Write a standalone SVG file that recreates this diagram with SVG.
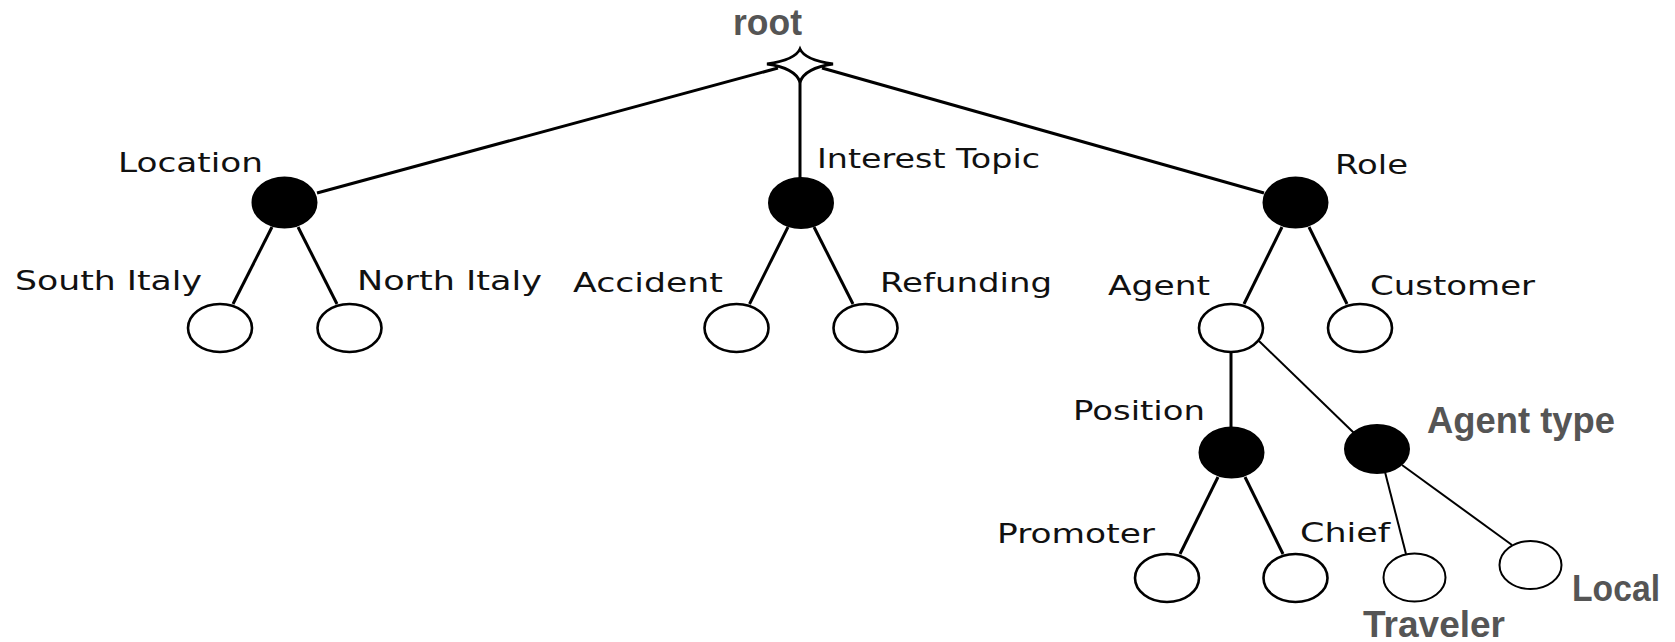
<svg xmlns="http://www.w3.org/2000/svg" width="1675" height="642" viewBox="0 0 1675 642">
  <style>
    .edge { stroke: #000; stroke-width: 3; fill: none; }
    .edge.thin { stroke-width: 2; }
    .cat { fill: #000; stroke: #000; stroke-width: 2; }
    .leaf { fill: #fff; stroke: #000; stroke-width: 2.6; }
    .leaf.thin { stroke-width: 2; }
    .lbl { font-family: "DejaVu Sans", Verdana, sans-serif; font-size: 26px; fill: #111; }
    .bold { font-family: "Liberation Sans", Arial, sans-serif; font-weight: bold; font-size: 36px; fill: #555; }
  </style>
  <rect width="1675" height="642" fill="#fff"/>

  <g id="connectors">
    <line class="edge" x1="778" y1="68" x2="317" y2="193"/>
    <line class="edge" x1="800" y1="80" x2="800" y2="179"/>
    <line class="edge" x1="822" y1="68" x2="1264" y2="193"/>
    <line class="edge" x1="272" y1="227" x2="233" y2="304"/>
    <line class="edge" x1="298" y1="227" x2="337" y2="304"/>
    <line class="edge" x1="788" y1="227" x2="749.5" y2="304"/>
    <line class="edge" x1="814" y1="227" x2="853" y2="304"/>
    <line class="edge" x1="1282" y1="227" x2="1244" y2="304"/>
    <line class="edge" x1="1309" y1="227" x2="1347" y2="304"/>
    <line class="edge" x1="1231" y1="352" x2="1231" y2="428"/>
    <line class="edge thin" x1="1259" y1="341" x2="1354" y2="433"/>
    <line class="edge" x1="1218" y1="477" x2="1180" y2="554"/>
    <line class="edge" x1="1245" y1="477" x2="1283" y2="554"/>
    <line class="edge thin" x1="1385" y1="472" x2="1406" y2="554"/>
    <line class="edge thin" x1="1402" y1="465" x2="1512" y2="545"/>
  </g>

  <g id="root">
    <path d="M800,49 Q805,60 833,64 Q805,68 800,82 Q795,68 767,64 Q795,60 800,49 Z" fill="#fff" stroke="#000" stroke-width="2.8"/>
    <text class="bold" x="733" y="35" font-size="34" textLength="69" lengthAdjust="spacingAndGlyphs">root</text>
  </g>

  <g id="location">
    <ellipse class="cat" cx="284.5" cy="202.5" rx="32" ry="25"/>
    <text class="lbl" x="118" y="172" textLength="145" lengthAdjust="spacingAndGlyphs">Location</text>
  </g>
  <g id="south-italy">
    <ellipse class="leaf" cx="220" cy="328" rx="32" ry="24"/>
    <text class="lbl" x="15" y="290" textLength="187" lengthAdjust="spacingAndGlyphs">South Italy</text>
  </g>
  <g id="north-italy">
    <ellipse class="leaf" cx="349.5" cy="328" rx="32" ry="24"/>
    <text class="lbl" x="357" y="290" textLength="185" lengthAdjust="spacingAndGlyphs">North Italy</text>
  </g>

  <g id="interest-topic">
    <ellipse class="cat" cx="801" cy="203" rx="32" ry="25"/>
    <text class="lbl" x="817" y="168" textLength="223" lengthAdjust="spacingAndGlyphs">Interest Topic</text>
  </g>
  <g id="accident">
    <ellipse class="leaf" cx="736.5" cy="328" rx="32" ry="24"/>
    <text class="lbl" x="573" y="292" textLength="150" lengthAdjust="spacingAndGlyphs">Accident</text>
  </g>
  <g id="refunding">
    <ellipse class="leaf" cx="865.5" cy="328" rx="32" ry="24"/>
    <text class="lbl" x="880" y="292" textLength="172" lengthAdjust="spacingAndGlyphs">Refunding</text>
  </g>

  <g id="role">
    <ellipse class="cat" cx="1295.5" cy="202.5" rx="32" ry="25"/>
    <text class="lbl" x="1335" y="174" textLength="73" lengthAdjust="spacingAndGlyphs">Role</text>
  </g>
  <g id="agent">
    <ellipse class="leaf" cx="1231" cy="328" rx="32" ry="24"/>
    <text class="lbl" x="1108" y="295" textLength="102" lengthAdjust="spacingAndGlyphs">Agent</text>
  </g>
  <g id="customer">
    <ellipse class="leaf" cx="1360" cy="328" rx="32" ry="24"/>
    <text class="lbl" x="1370" y="295" textLength="165" lengthAdjust="spacingAndGlyphs">Customer</text>
  </g>

  <g id="position">
    <ellipse class="cat" cx="1231.5" cy="452.5" rx="32" ry="25"/>
    <text class="lbl" x="1073" y="420" textLength="132" lengthAdjust="spacingAndGlyphs">Position</text>
  </g>
  <g id="promoter">
    <ellipse class="leaf" cx="1167" cy="578" rx="32" ry="24"/>
    <text class="lbl" x="997" y="543" textLength="158" lengthAdjust="spacingAndGlyphs">Promoter</text>
  </g>
  <g id="chief">
    <ellipse class="leaf" cx="1295.5" cy="578" rx="32" ry="24"/>
    <text class="lbl" x="1300" y="542" textLength="90" lengthAdjust="spacingAndGlyphs">Chief</text>
  </g>

  <g id="agent-type">
    <ellipse class="cat" cx="1377" cy="449" rx="32" ry="24"/>
    <text class="bold" x="1427" y="433" textLength="188" lengthAdjust="spacingAndGlyphs">Agent type</text>
  </g>
  <g id="traveler">
    <ellipse class="leaf thin" cx="1414.5" cy="577.5" rx="31" ry="24"/>
    <text class="bold" x="1363" y="637" font-size="34" textLength="142" lengthAdjust="spacingAndGlyphs">Traveler</text>
  </g>
  <g id="local">
    <ellipse class="leaf thin" cx="1530.5" cy="565" rx="31" ry="24"/>
    <text class="bold" x="1572" y="601" textLength="88" lengthAdjust="spacingAndGlyphs">Local</text>
  </g>
</svg>
